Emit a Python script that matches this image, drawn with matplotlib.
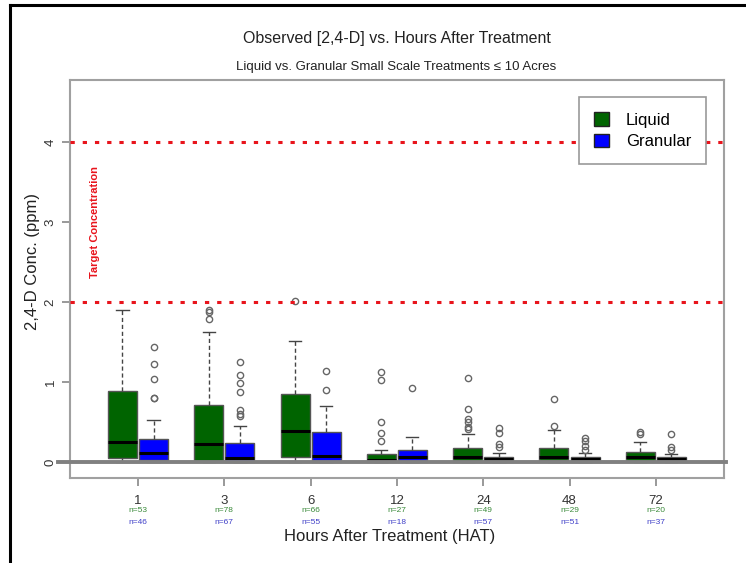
import matplotlib
matplotlib.use("Agg")
import matplotlib.pyplot as plt
from matplotlib.patches import Patch
from matplotlib.lines import Line2D
import numpy as np

plt.rcParams['font.family'] = ['Liberation Sans', 'DejaVu Sans']

hat_labels = ['1', '3', '6', '12', '24', '48', '72']
n_liquid = [53, 78, 66, 27, 49, 29, 20]
n_granular = [46, 67, 55, 18, 57, 51, 37]

# Liquid box statistics (ppm)
liq_q1 = [0.05, 0.015, 0.066, 0.005, 0.01, 0.03, 0.02]
liq_med = [0.26, 0.235, 0.39, 0.03, 0.065, 0.065, 0.07]
liq_q3 = [0.89, 0.72, 0.86, 0.106, 0.18, 0.185, 0.135]
liq_lo = [0.0, 0.0, 0.0, 0.0, 0.0, 0.0, 0.0]
liq_hi = [1.91, 1.635, 1.52, 0.156, 0.35, 0.405, 0.26]
liq_out = [[], [1.91, 1.885, 1.79], [2.02], [1.13, 1.035, 0.50, 0.37, 0.27],
           [1.05, 0.67, 0.54, 0.51, 0.44, 0.42], [0.79, 0.45], [0.385, 0.35]]

# Granular box statistics (ppm)
gra_q1 = [0.03, 0.01, 0.01, 0.005, 0.005, 0.01, 0.02]
gra_med = [0.116, 0.06, 0.075, 0.066, 0.04, 0.045, 0.04]
gra_q3 = [0.295, 0.24, 0.378, 0.158, 0.07, 0.07, 0.065]
gra_lo = [0.0, 0.0, 0.0, 0.0, 0.0, 0.0, 0.0]
gra_hi = [0.53, 0.457, 0.70, 0.315, 0.12, 0.115, 0.105]
gra_out = [[1.445, 1.23, 1.04, 0.81, 0.80], [1.254, 1.09, 0.99, 0.875, 0.656, 0.60, 0.577],
           [1.14, 0.91], [0.925], [0.43, 0.37, 0.23, 0.19], [0.30, 0.27, 0.21, 0.16],
           [0.35, 0.19, 0.15]]

target_levels = [2, 4]

W, H = 746, 563
fig = plt.figure(figsize=(W / 100, H / 100), dpi=100)
ax = fig.add_axes([70 / W, (H - 478) / H, (724 - 70) / W, (478 - 80) / H])

pos = np.arange(1, len(hat_labels) + 1)
off = 0.18
bw = 0.336


def stats(q1, med, q3, lo, hi, out):
    return [dict(q1=a, med=b, q3=c, whislo=d, whishi=e, fliers=f)
            for a, b, c, d, e, f in zip(q1, med, q3, lo, hi, out)]


common = dict(widths=bw, patch_artist=True, capwidths=0.14, showfliers=True,
              medianprops=dict(color='black', linewidth=2.2),
              whiskerprops=dict(color='#444444', linestyle=(0, (3, 2)), linewidth=1.0),
              capprops=dict(color='#444444', linewidth=1.0),
              flierprops=dict(marker='o', markerfacecolor='none', markeredgecolor='#666666',
                              markersize=4.5, markeredgewidth=1.0))

b1 = ax.bxp(stats(liq_q1, liq_med, liq_q3, liq_lo, liq_hi, liq_out), positions=pos - off,
            boxprops=dict(facecolor='#006400', edgecolor='#555555', linewidth=1.0), **common)
b2 = ax.bxp(stats(gra_q1, gra_med, gra_q3, gra_lo, gra_hi, gra_out), positions=pos + off,
            boxprops=dict(facecolor='#0000ff', edgecolor='#555555', linewidth=1.0), **common)

for lvl in target_levels:
    ax.axhline(lvl, color='#e8141c', linestyle=(0, (1.4, 2.6)), linewidth=2.2, zorder=5)

ax.axhline(0, xmin=-0.018, xmax=1.003, color='#808080', linewidth=2.8, clip_on=False, zorder=6)

ax.text(0.50, 3.0, 'Target Concentration', rotation=90, color='#e8141c', fontsize=8,
        fontweight='bold', ha='center', va='center')

ax.set_xlim(0.212, 7.79)
ax.set_ylim(-0.194, 4.78)
ax.set_yticks([0, 1, 2, 3, 4])
ax.set_yticklabels(['0', '1', '2', '3', '4'], rotation=90, va='center')
ax.set_xticks(pos)
ax.set_xticklabels(hat_labels)
ax.tick_params(axis='both', colors='#888888', labelcolor='#333333', labelsize=9.5,
               length=6, width=1.2)
ax.tick_params(axis='x', pad=6)
for s in ax.spines.values():
    s.set_color('#a0a0a0')
    s.set_linewidth(1.5)

for i, (nl, ng) in enumerate(zip(n_liquid, n_granular)):
    ax.text(pos[i], -0.60, f'n={nl}', color='#3a8a3a', fontsize=6, ha='center', va='center')
    ax.text(pos[i], -0.75, f'n={ng}', color='#4040c8', fontsize=6, ha='center', va='center')

fig.text((230 + 563) / 2 / W, 1 - 38 / H, 'Observed [2,4-D] vs. Hours After Treatment',
         ha='center', va='center', fontsize=11.5, color='#222222')
fig.text((213 + 580) / 2 / W, 1 - 67 / H, 'Liquid vs. Granular Small Scale Treatments \u2264 10 Acres',
         ha='center', va='center', fontsize=9.5, color='#222222')
fig.text(390 / W, 1 - 537 / H, 'Hours After Treatment (HAT)', ha='center', va='center',
         fontsize=12, color='#222222')
fig.text(33 / W, 1 - 262 / H, '2,4-D Conc. (ppm)', ha='center', va='center', rotation=90,
         fontsize=12, color='#222222')

handles = [Patch(facecolor='#006400', edgecolor='#222222', label='Liquid'),
           Patch(facecolor='#0000ff', edgecolor='#222222', label='Granular')]
leg = ax.legend(handles=handles, loc='upper right', bbox_to_anchor=(0.9725, 0.957),
                borderaxespad=0, fancybox=False, framealpha=1, edgecolor='#999999',
                fontsize=12, handlelength=0.9, handleheight=0.9, handletextpad=1.0,
                borderpad=0.9, labelspacing=0.35)
leg.get_frame().set_linewidth(1.2)

fig.add_artist(Line2D([10 / W, 10 / W], [0, 1 - 5 / H], color='black', linewidth=2.2))
fig.add_artist(Line2D([10 / W, 1], [1 - 5 / H, 1 - 5 / H], color='black', linewidth=2.2))

fig.savefig('out.png', dpi=100)
